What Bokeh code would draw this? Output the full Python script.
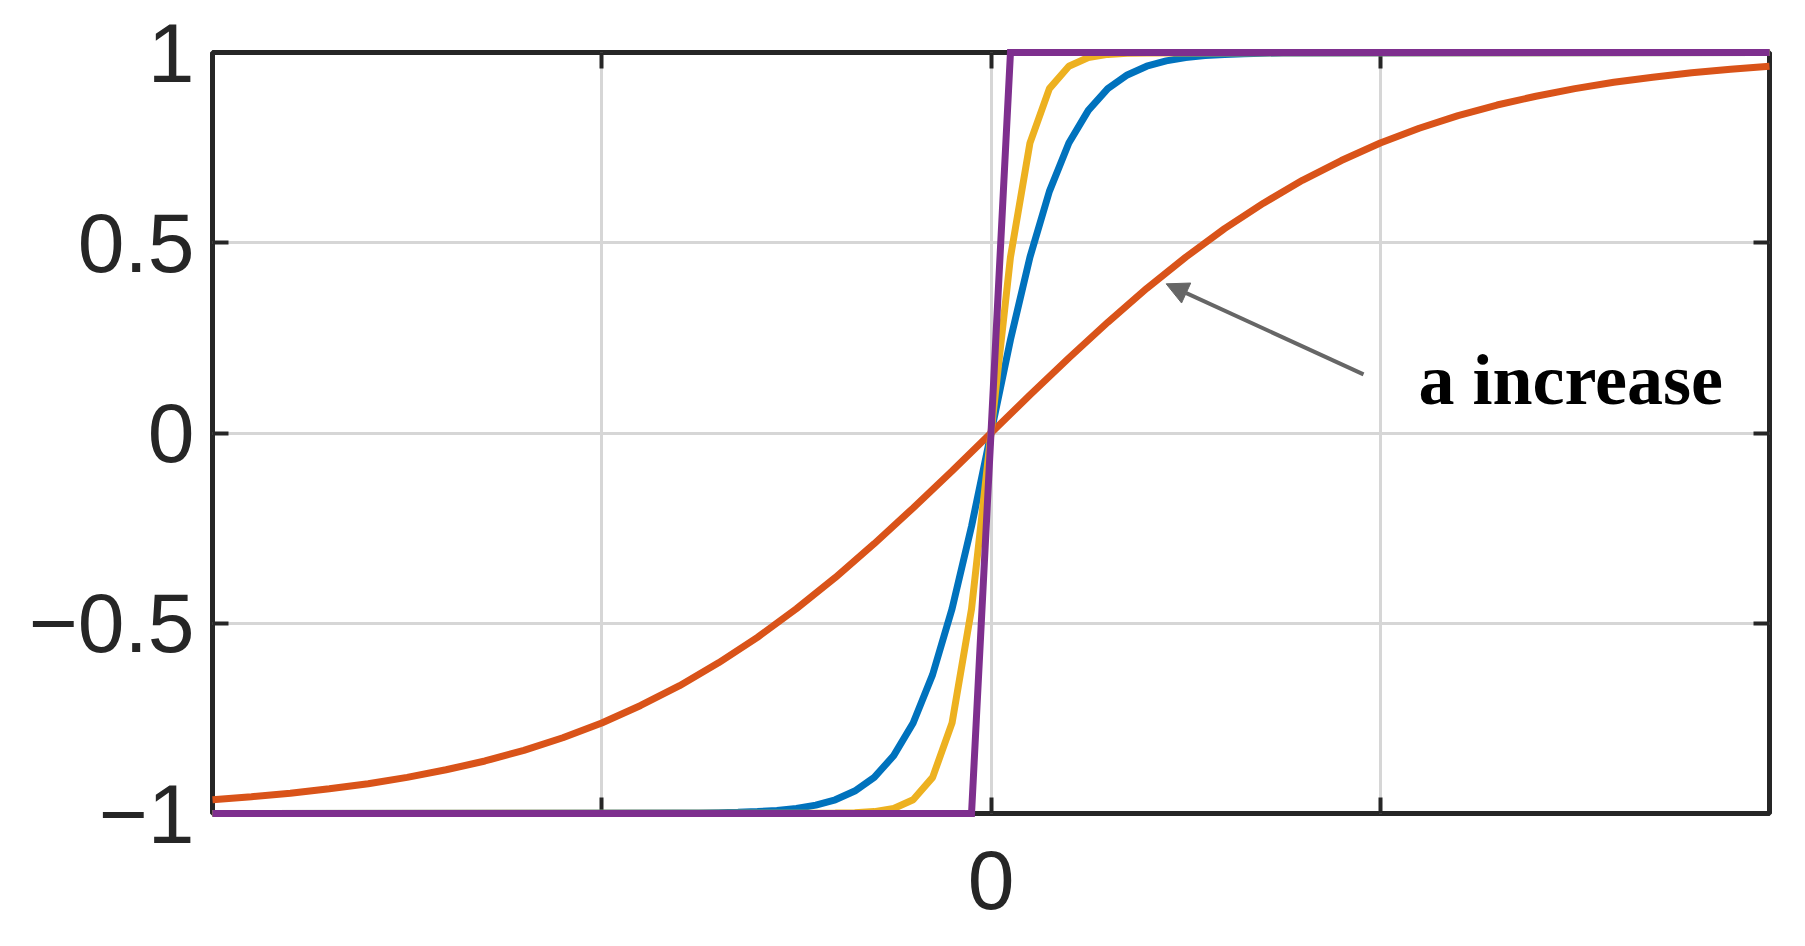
from bokeh.plotting import figure
from bokeh.models import LinearAxis, FixedTicker, Arrow, NormalHead, Range1d, Label
from bokeh.core.properties import value
from bokeh.embed import file_html
from bokeh.resources import INLINE

# ---- data (tanh-like curves, a increasing) ----
x_orange = [-2.0, -1.9, -1.8, -1.7, -1.6, -1.5, -1.4, -1.3, -1.2, -1.1, -1.0,
            -0.9, -0.8, -0.7, -0.6, -0.5, -0.4, -0.3, -0.2, -0.1, 0.0,
            0.1, 0.2, 0.3, 0.4, 0.5, 0.6, 0.7, 0.8, 0.9, 1.0,
            1.1, 1.2, 1.3, 1.4, 1.5, 1.6, 1.7, 1.8, 1.9, 2.0]
y_orange = [-0.964, -0.956, -0.947, -0.935, -0.922, -0.905, -0.885, -0.862, -0.834, -0.801, -0.762,
            -0.716, -0.664, -0.604, -0.537, -0.462, -0.380, -0.291, -0.197, -0.100, 0.0,
            0.100, 0.197, 0.291, 0.380, 0.462, 0.537, 0.604, 0.664, 0.716, 0.762,
            0.801, 0.834, 0.862, 0.885, 0.905, 0.922, 0.935, 0.947, 0.956, 0.964]

x_blue = [-2.0, -0.8, -0.75, -0.7, -0.65, -0.6, -0.55, -0.5, -0.45, -0.4, -0.35, -0.3,
          -0.25, -0.2, -0.15, -0.1, -0.05, 0.0, 0.05, 0.1, 0.15, 0.2, 0.25,
          0.3, 0.35, 0.4, 0.45, 0.5, 0.55, 0.6, 0.65, 0.7, 0.75, 0.8, 2.0]
y_blue = [-1.0, -0.999, -0.999, -0.998, -0.997, -0.995, -0.992, -0.987, -0.978, -0.964, -0.941, -0.905,
          -0.848, -0.762, -0.635, -0.462, -0.245, 0.0, 0.245, 0.462, 0.635, 0.762, 0.848,
          0.905, 0.941, 0.964, 0.978, 0.987, 0.992, 0.995, 0.997, 0.998, 0.999, 0.999, 1.0]

x_yellow = [-2.0, -0.4, -0.35, -0.3, -0.25, -0.2, -0.15, -0.1, -0.05, 0.0,
            0.05, 0.1, 0.15, 0.2, 0.25, 0.3, 0.35, 0.4, 2.0]
y_yellow = [-1.0, -0.999, -0.998, -0.995, -0.987, -0.964, -0.905, -0.762, -0.462, 0.0,
            0.462, 0.762, 0.905, 0.964, 0.987, 0.995, 0.998, 0.999, 1.0]

x_purple = [-2.0, -0.05, 0.0, 0.05, 2.0]
y_purple = [-1.0, -1.0, 0.0, 1.0, 1.0]

x_ticks = [-1, 0, 1]
x_tick_labels = {-1.0: "", 0.0: "0", 1.0: ""}
y_ticks = [-1, -0.5, 0, 0.5, 1]
y_tick_labels = {-1.0: "\u22121", -0.5: "\u22120.5", 0.0: "0", 0.5: "0.5", 1.0: "1"}

annotation_text = "a increase"

# ---- figure ----
AX = "#262626"
p = figure(frame_width=1557, frame_height=761,
           x_range=Range1d(-2, 2), y_range=Range1d(-1, 1),
           output_backend="svg", toolbar_location=None,
           min_border_left=212, min_border_top=52, min_border_right=28, min_border_bottom=120)
p.background_fill_color = "white"
p.border_fill_color = "white"
p.outline_line_color = AX
p.outline_line_width = 5

font = "Liberation Sans"

def style_axis(ax, ticks, labels, show):
    ax.ticker = FixedTicker(ticks=ticks)
    ax.axis_line_color = None
    ax.major_tick_line_color = AX
    ax.major_tick_line_width = 4
    ax.major_tick_in = 16
    ax.major_tick_out = 0
    ax.minor_tick_line_color = None
    ax.major_label_text_font = font
    ax.major_label_text_color = AX
    if show:
        ax.major_label_overrides = labels
        ax.major_label_text_font_size = "84px"
    else:
        ax.major_label_text_font_size = "0px"
        ax.major_label_text_color = None

style_axis(p.xaxis[0], x_ticks, x_tick_labels, True)
style_axis(p.yaxis[0], y_ticks, y_tick_labels, True)
p.xaxis[0].major_label_standoff = 37
p.yaxis[0].major_label_standoff = 18

top = LinearAxis()
right = LinearAxis()
style_axis(top, x_ticks, {}, False)
style_axis(right, y_ticks, {}, False)
p.add_layout(top, "above")
p.add_layout(right, "right")

p.xgrid.ticker = FixedTicker(ticks=x_ticks)
p.ygrid.ticker = FixedTicker(ticks=y_ticks)
for g in (p.xgrid[0], p.ygrid[0]):
    g.grid_line_color = "#d6d6d6"
    g.grid_line_width = 3

lw = 7
p.line(x_blue, y_blue, line_color="#0072BD", line_width=lw, level="overlay")
p.line(x_orange, y_orange, line_color="#D95319", line_width=lw, level="overlay")
p.line(x_yellow, y_yellow, line_color="#EDB120", line_width=lw, level="overlay")
p.line(x_purple, y_purple, line_color="#7E2F8E", line_width=lw, level="overlay",
       line_join="miter")

p.add_layout(Arrow(x_start=0.957, y_start=0.154, x_end=0.45, y_end=0.392,
                   line_color="#666666", line_width=4,
                   end=NormalHead(size=22, fill_color="#666666", line_color="#666666")))
p.add_layout(Label(x=1.098, y=0.138, text=annotation_text, text_font="Liberation Serif",
                   text_font_style="bold", text_font_size="72px", text_color="black",
                   text_align="left", text_baseline="alphabetic"))

open("out.html", "w").write(file_html(p, INLINE))
